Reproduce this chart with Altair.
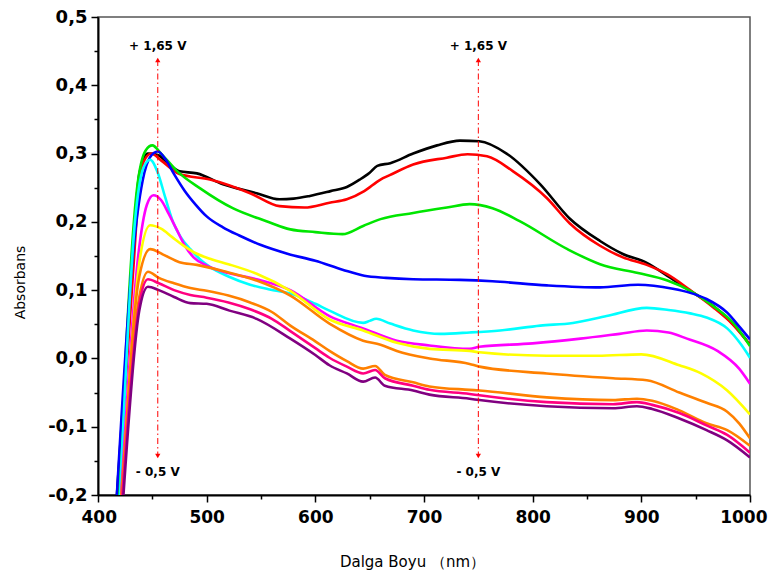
import altair as alt
import pandas as pd

# ---------------- data ----------------
series_names = ["black", "red", "green", "blue", "cyan", "magenta", "yellow",
                "orange_a", "orange_b", "pink", "purple"]
series_colors = ["#000000", "#ff0000", "#00e600", "#0000ff", "#00ffff", "#ff00ff",
                 "#ffff00", "#ff8000", "#ff8000", "#ff0080", "#800080"]

black_x = [417, 430, 438, 446, 455, 465, 475, 491, 515, 546, 567, 580, 595, 614, 629, 641, 650, 657, 669, 690, 712, 733, 751, 776, 807, 834, 862, 883, 905, 924, 945, 966, 984, 1000]
black_y = [-0.21, 0.10, 0.27, 0.300, 0.298, 0.285, 0.274, 0.271, 0.255, 0.242, 0.233, 0.234, 0.238, 0.245, 0.251, 0.262, 0.272, 0.282, 0.286, 0.300, 0.312, 0.319, 0.318, 0.300, 0.255, 0.205, 0.172, 0.153, 0.140, 0.121, 0.099, 0.077, 0.051, 0.020]

red_x = [418, 432, 440, 449, 458, 475, 503, 540, 567, 590, 613, 629, 645, 660, 668, 690, 721, 740, 758, 782, 813, 834, 862, 883, 905, 924, 945, 966, 984, 1000]
red_y = [-0.21, 0.12, 0.28, 0.300, 0.290, 0.270, 0.262, 0.242, 0.223, 0.221, 0.228, 0.233, 0.245, 0.262, 0.268, 0.284, 0.294, 0.299, 0.296, 0.274, 0.235, 0.198, 0.165, 0.148, 0.137, 0.123, 0.100, 0.075, 0.050, 0.020]

green_x = [419, 436, 444, 450, 458, 473, 494, 524, 555, 577, 600, 625, 644, 660, 690, 721, 742, 763, 788, 832, 862, 897, 924, 945, 966, 984, 1000]
green_y = [-0.21, 0.25, 0.305, 0.312, 0.300, 0.274, 0.249, 0.220, 0.201, 0.189, 0.185, 0.182, 0.194, 0.204, 0.213, 0.221, 0.226, 0.220, 0.201, 0.160, 0.138, 0.125, 0.114, 0.099, 0.077, 0.053, 0.018]

blue_x = [417, 432, 441, 448, 455, 462, 470, 480, 490, 500, 515, 530, 550, 575, 600, 625, 645, 665, 690, 733, 763, 813, 862, 897, 929, 945, 960, 979, 991, 1000]
blue_y = [-0.21, 0.15, 0.26, 0.295, 0.303, 0.292, 0.270, 0.245, 0.225, 0.208, 0.192, 0.180, 0.166, 0.153, 0.143, 0.130, 0.121, 0.118, 0.116, 0.115, 0.113, 0.107, 0.104, 0.108, 0.102, 0.096, 0.087, 0.067, 0.045, 0.028]

cyan_x = [420, 434, 442, 448, 455, 462, 469, 476, 485, 494, 503, 520, 540, 558, 577, 600, 613, 644, 650, 656, 669, 690, 715, 742, 770, 807, 837, 868, 905, 925, 945, 960, 979, 992, 1000]
cyan_y = [-0.21, 0.20, 0.280, 0.291, 0.272, 0.235, 0.200, 0.178, 0.160, 0.145, 0.134, 0.120, 0.108, 0.101, 0.095, 0.080, 0.070, 0.052, 0.055, 0.058, 0.051, 0.041, 0.036, 0.038, 0.041, 0.048, 0.052, 0.062, 0.074, 0.071, 0.066, 0.060, 0.044, 0.020, 0.001]

magenta_x = [421, 437, 445, 451, 458, 465, 472, 480, 488, 500, 520, 546, 577, 613, 644, 675, 705, 742, 751, 800, 844, 880, 905, 925, 942, 970, 990, 1000]
magenta_y = [-0.21, 0.15, 0.225, 0.239, 0.232, 0.212, 0.190, 0.165, 0.148, 0.136, 0.125, 0.116, 0.100, 0.062, 0.044, 0.026, 0.019, 0.014, 0.017, 0.022, 0.029, 0.036, 0.041, 0.038, 0.029, 0.011, -0.015, -0.037]

yellow_x = [422, 438, 448, 458, 468, 478, 490, 505, 520, 546, 577, 613, 644, 675, 705, 742, 751, 813, 860, 900, 935, 955, 979, 1000]
yellow_y = [-0.21, 0.14, 0.195, 0.190, 0.178, 0.166, 0.154, 0.145, 0.138, 0.124, 0.099, 0.057, 0.041, 0.023, 0.014, 0.011, 0.009, 0.004, 0.004, 0.006, -0.010, -0.022, -0.047, -0.082]

orange_a_x = [422, 438, 448, 460, 475, 491, 515, 546, 577, 613, 644, 660, 675, 705, 742, 751, 813, 874, 905, 935, 960, 979, 990, 1000]
orange_a_y = [-0.21, 0.12, 0.160, 0.152, 0.141, 0.137, 0.128, 0.114, 0.092, 0.051, 0.026, 0.020, 0.011, 0.000, -0.008, -0.012, -0.022, -0.029, -0.032, -0.050, -0.065, -0.078, -0.095, -0.117]

orange_b_x = [421, 438, 446, 456, 470, 485, 500, 520, 540, 560, 577, 600, 613, 629, 644, 655, 664, 690, 705, 742, 751, 813, 874, 896, 910, 935, 960, 979, 1000]
orange_b_y = [-0.21, 0.09, 0.127, 0.118, 0.110, 0.103, 0.099, 0.092, 0.082, 0.068, 0.048, 0.025, 0.011, -0.004, -0.015, -0.011, -0.024, -0.035, -0.041, -0.046, -0.047, -0.057, -0.061, -0.059, -0.062, -0.076, -0.095, -0.105, -0.128]

pink_x = [422, 438, 446, 456, 470, 485, 500, 520, 540, 560, 577, 600, 613, 629, 644, 655, 664, 690, 705, 742, 751, 813, 874, 896, 910, 935, 960, 979, 1000]
pink_y = [-0.21, 0.08, 0.116, 0.110, 0.100, 0.093, 0.089, 0.082, 0.072, 0.058, 0.040, 0.015, 0.001, -0.012, -0.022, -0.017, -0.029, -0.040, -0.046, -0.052, -0.054, -0.064, -0.067, -0.064, -0.068, -0.080, -0.098, -0.112, -0.138]

purple_x = [423, 438, 446, 456, 470, 485, 500, 521, 546, 577, 600, 613, 629, 644, 655, 664, 690, 705, 742, 751, 813, 874, 896, 910, 935, 960, 979, 1000]
purple_y = [-0.21, 0.07, 0.105, 0.100, 0.090, 0.081, 0.080, 0.070, 0.058, 0.029, 0.005, -0.010, -0.022, -0.034, -0.028, -0.040, -0.047, -0.053, -0.059, -0.061, -0.070, -0.073, -0.070, -0.074, -0.088, -0.105, -0.120, -0.145]

series_x = [black_x, red_x, green_x, blue_x, cyan_x, magenta_x, yellow_x,
            orange_a_x, orange_b_x, pink_x, purple_x]
series_y = [black_y, red_y, green_y, blue_y, cyan_y, magenta_y, yellow_y,
            orange_a_y, orange_b_y, pink_y, purple_y]

# annotation arrows
arrow_x = [455, 750]
arrow_top = [0.437, 0.437]
arrow_bottom = [-0.143, -0.143]
label_top = ["+ 1,65 V", "+ 1,65 V"]
label_bottom = ["- 0,5 V", "- 0,5 V"]
label_top_y = [0.458, 0.458]
label_bottom_y = [-0.166, -0.166]

x_ticks = [400 + 50 * i for i in range(13)]
y_ticks = [round(-0.2 + 0.05 * i, 2) for i in range(15)]

# ---------------- build tables ----------------
rows = []
for name, xs, ys in zip(series_names, series_x, series_y):
    for i, (xv, yv) in enumerate(zip(xs, ys)):
        rows.append({"series": name, "x": xv, "y": yv, "i": i})
df = pd.DataFrame(rows)

ann = pd.DataFrame({
    "x": arrow_x, "top": arrow_top, "bottom": arrow_bottom,
    "ltop": label_top, "lbot": label_bottom,
    "ty": label_top_y, "by": label_bottom_y,
})

FONT = "DejaVu Sans"

major_test_x = "datum.value % 100 == 0"
major_test_y = "abs(datum.value * 10 - round(datum.value * 10)) < 0.001"

x_axis = alt.Axis(
    values=x_ticks,
    labelExpr="datum.value % 100 == 0 ? format(datum.value, 'd') : ''",
    tickSize={"condition": {"test": major_test_x, "value": 7}, "value": 4},
    labelFontSize=17, labelFontWeight="bold", labelFont=FONT, labelColor="#000",
    labelPadding=7, labelFlush=True, labelFlushOffset=17,
    title="Dalga Boyu （nm）", titleFontSize=15, titleFontWeight="normal",
    titleFont=FONT, titleColor="#000", titlePadding=29, titleX=314,
    domainColor="#000", domainWidth=2, tickColor="#000", tickWidth=1.5,
    grid=False,
)
y_axis = alt.Axis(
    values=y_ticks,
    labelExpr=("abs(datum.value * 10 - round(datum.value * 10)) < 0.001 ? "
               "replace(replace(format(datum.value, '.1f'), '.', ','), '\u2212', '-') : ''"),
    tickSize={"condition": {"test": major_test_y, "value": 7}, "value": 4},
    labelFontSize=18, labelFontWeight="bold", labelFont=FONT, labelColor="#000",
    labelPadding=4, labelFlush=False,
    title="Absorbans", titleFontSize=14, titleFontWeight="normal",
    titleFont=FONT, titleColor="#000", titlePadding=20, titleY=265,
    domainColor="#000", domainWidth=2, tickColor="#000", tickWidth=1.5,
    grid=False,
)
x_scale = alt.Scale(domain=[400, 1000], nice=False, zero=False)
y_scale = alt.Scale(domain=[-0.2, 0.5], nice=False, zero=False)


def X(field):
    return alt.X(field, type="quantitative", scale=x_scale, axis=x_axis)


def Y(field):
    return alt.Y(field, type="quantitative", scale=y_scale, axis=y_axis)


lines = alt.Chart(df).mark_line(strokeWidth=2.6, clip=True, interpolate="monotone").encode(
    x=X("x"),
    y=Y("y"),
    color=alt.Color("series:N", scale=alt.Scale(domain=series_names, range=series_colors), legend=None),
    order=alt.Order("i:Q"),
)

rules = alt.Chart(ann).mark_rule(color="#ff0000", strokeWidth=1,
                                 strokeDash=[6, 3, 1.5, 3]).encode(
    x=X("x"), y=Y("top"), y2="bottom")

heads_up = alt.Chart(ann).mark_point(shape="triangle-up", filled=True, size=28,
                                     color="#ff0000", opacity=1).encode(x=X("x"), y=Y("top"))
heads_down = alt.Chart(ann).mark_point(shape="triangle-down", filled=True, size=28,
                                       color="#ff0000", opacity=1).encode(x=X("x"), y=Y("bottom"))

txt_top = alt.Chart(ann).mark_text(fontSize=12, fontWeight="bold", font=FONT,
                                   color="#000").encode(x=X("x"), y=Y("ty"), text="ltop:N")
txt_bot = alt.Chart(ann).mark_text(fontSize=12, fontWeight="bold", font=FONT,
                                   color="#000").encode(x=X("x"), y=Y("by"), text="lbot:N")

chart = alt.layer(lines, rules, heads_up, heads_down, txt_top, txt_bot).properties(
    width=652, height=478,
    autosize=alt.AutoSizeParams(type="none"),
    padding={"left": 90, "top": 9, "right": 18, "bottom": 78},
    background="#ffffff",
).configure_view(stroke="#555555", strokeWidth=1.5)

chart.save("out.html", embed_options={"renderer": "svg", "actions": False})
